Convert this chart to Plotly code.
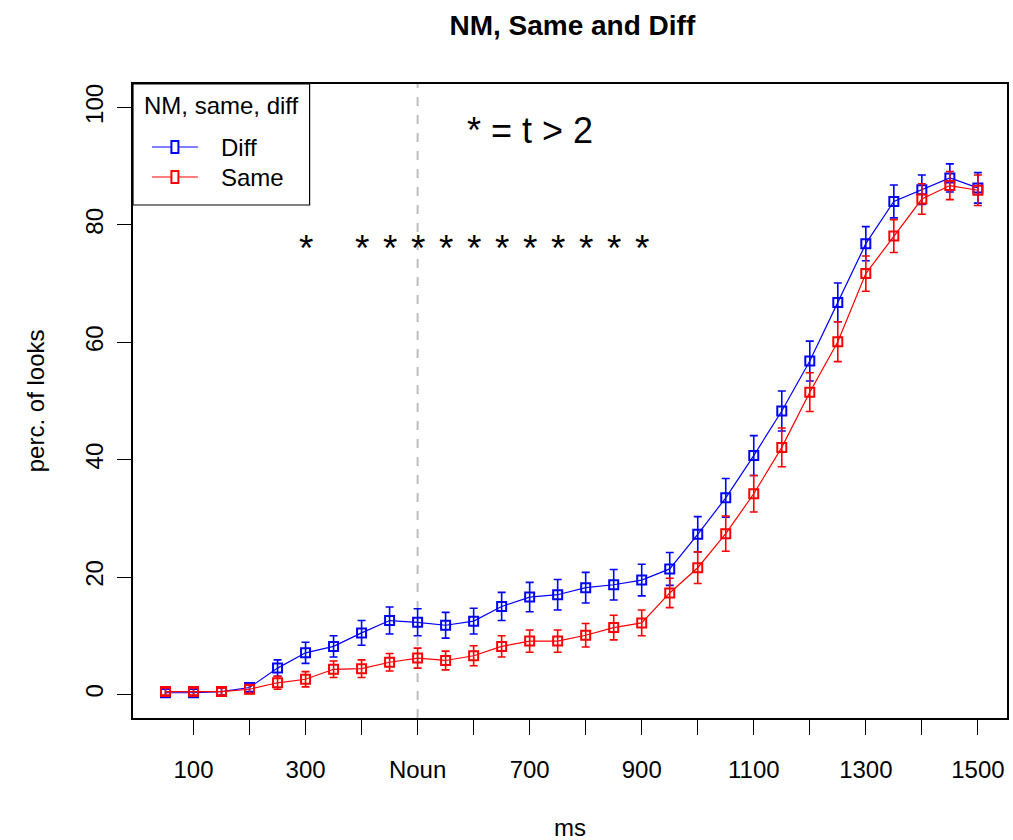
import plotly.graph_objects as go

ms = [50, 100, 150, 200, 250, 300, 350, 400, 450, 500, 550, 600, 650, 700, 750,
      800, 850, 900, 950, 1000, 1050, 1100, 1150, 1200, 1250, 1300, 1350, 1400, 1450, 1500]

diff_mean = [0.3, 0.3, 0.5, 1.2, 4.5, 7.1, 8.2, 10.5, 12.6, 12.3, 11.8, 12.5, 15.0, 16.6, 17.0,
             18.2, 18.7, 19.5, 21.4, 27.3, 33.5, 40.7, 48.3, 56.8, 66.8, 76.8, 84.0, 86.0, 88.0, 86.3]
diff_se = [0.6, 0.6, 0.6, 0.7, 1.4, 1.8, 1.8, 2.1, 2.3, 2.3, 2.2, 2.2, 2.4, 2.5, 2.6,
           2.6, 2.6, 2.7, 2.8, 3.0, 3.3, 3.4, 3.4, 3.4, 3.3, 2.9, 2.8, 2.5, 2.4, 2.6]

same_mean = [0.5, 0.5, 0.5, 0.9, 2.0, 2.6, 4.3, 4.4, 5.5, 6.2, 5.8, 6.6, 8.2, 9.1, 9.1,
             10.1, 11.4, 12.2, 17.3, 21.6, 27.4, 34.2, 42.1, 51.5, 60.1, 71.7, 78.1, 84.4, 86.7, 85.9]
same_se = [0.6, 0.6, 0.6, 0.7, 1.1, 1.3, 1.4, 1.5, 1.5, 1.7, 1.6, 1.7, 1.8, 1.9, 1.9,
           2.0, 2.1, 2.2, 2.5, 2.7, 3.0, 3.1, 3.3, 3.3, 3.4, 3.0, 2.8, 2.6, 2.4, 2.6]

series_names = ["Diff", "Same"]
series_colors = ["#0000FF", "#FF0000"]

x_tickvals = [100, 200, 300, 400, 500, 600, 700, 800, 900, 1000, 1100, 1200, 1300, 1400, 1500]
x_ticktext = ["100", "", "300", "", "Noun", "", "700", "", "900", "", "1100", "", "1300", "", "1500"]
y_tickvals = [0, 20, 40, 60, 80, 100]

star_x = [300, 400, 450, 500, 550, 600, 650, 700, 750, 800, 850, 900]
star_y = 76
noun_x = 500

FONT = "Liberation Sans, Arial, Helvetica, sans-serif"

W, H = 1013, 840
ML, MR, MT, MB = 133, 4, 84, 122
PW, PH = W - ML - MR, H - MT - MB


def px(x):
    return (x - ML) / PW


def py(y):
    return (H - MB - y) / PH


fig = go.Figure()

for name, mean, se, color in [(series_names[0], diff_mean, diff_se, series_colors[0]),
                              (series_names[1], same_mean, same_se, series_colors[1])]:
    fig.add_trace(go.Scatter(
        x=ms, y=mean, name=name, mode="lines+markers", showlegend=False,
        line=dict(color=color, width=1.2),
        marker=dict(symbol="square-open", size=9, color=color, line=dict(width=2, color=color)),
        error_y=dict(type="data", array=se, visible=True, color=color, thickness=1.6, width=4),
    ))

fig.add_shape(type="line", x0=noun_x, x1=noun_x, y0=0, y1=1, yref="paper", xref="x",
              line=dict(color="#BEBEBE", width=2, dash="dash"), layer="below")

for sx in star_x:
    fig.add_annotation(x=sx, y=star_y, text="*", showarrow=False,
                       font=dict(size=37, color="black", family=FONT))

fig.add_annotation(x=700, y=96, text="* = t > 2", showarrow=False,
                   font=dict(size=36, color="black", family=FONT))

# axis titles
fig.add_annotation(x=0.5, y=py(827), xref="paper", yref="paper", text="ms", showarrow=False,
                   font=dict(size=24, color="black", family=FONT), yanchor="middle")
fig.add_annotation(x=px(35), y=0.5, xref="paper", yref="paper", text="perc. of looks",
                   showarrow=False, textangle=-90, xanchor="center", yanchor="middle",
                   font=dict(size=24, color="black", family=FONT))

# legend (R-style box, top-left)
fig.add_shape(type="rect", xref="paper", yref="paper", x0=px(133), x1=px(310), y0=py(205), y1=py(84),
              line=dict(color="black", width=1.2), fillcolor="white", layer="above")
fig.add_annotation(x=px(222), y=py(105), xref="paper", yref="paper", text="NM, same, diff",
                   showarrow=False, font=dict(size=24, color="black", family=FONT),
                   xanchor="center", yanchor="middle")
for i, (name, color) in enumerate(zip(series_names, series_colors)):
    yy = 147 + 30 * i
    fig.add_shape(type="line", xref="paper", yref="paper", x0=px(152), x1=px(198),
                  y0=py(yy), y1=py(yy), line=dict(color=color, width=1.2), layer="above")
    fig.add_shape(type="rect", xref="paper", yref="paper", x0=px(171.5), x1=px(178.5),
                  y0=py(yy + 6), y1=py(yy - 6), line=dict(color=color, width=2),
                  fillcolor="white", layer="above")
    fig.add_annotation(x=px(219), y=py(yy), xref="paper", yref="paper", text=name,
                       showarrow=False, font=dict(size=24, color="black", family=FONT),
                       xanchor="left", yanchor="middle")

fig.update_layout(
    width=W, height=H,
    margin=dict(l=ML, r=MR, t=MT, b=MB),
    paper_bgcolor="white", plot_bgcolor="white",
    font=dict(family=FONT, size=24, color="black"),
    title=dict(text="<b>NM, Same and Diff</b>", x=0.565, xanchor="center", y=0.97, yanchor="middle",
               font=dict(size=28, family=FONT, color="black")),
    showlegend=False,
    xaxis=dict(range=[-8, 1552], tickvals=x_tickvals, ticktext=x_ticktext,
               showgrid=False, zeroline=False, showline=True, linecolor="black", linewidth=1.5,
               mirror=True, ticks="outside", ticklen=15, tickwidth=1.2, tickcolor="black",
               ticklabelstandoff=14, tickfont=dict(size=24)),
    yaxis=dict(range=[-4, 104], tickvals=y_tickvals,
               showgrid=False, zeroline=False, showline=True, linecolor="black", linewidth=1.5,
               mirror=True, ticks="outside", ticklen=14, tickwidth=1.2, tickcolor="black",
               tickangle=-90, ticklabelstandoff=5, tickfont=dict(size=24)),
)

fig.write_html("out.html")
